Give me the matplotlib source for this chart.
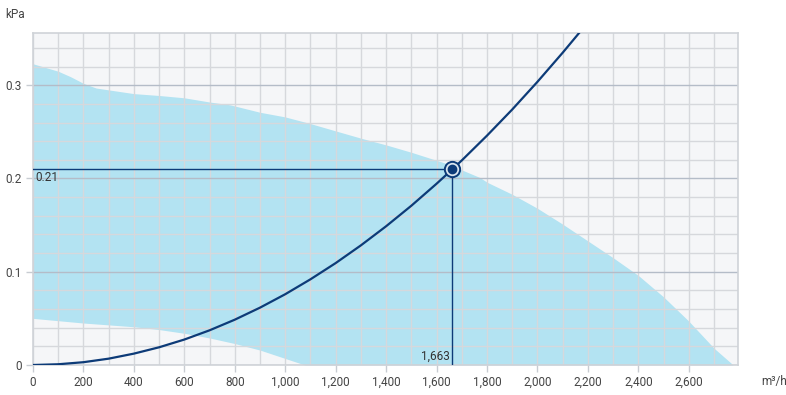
import numpy as np
import matplotlib.pyplot as plt
from matplotlib.ticker import MultipleLocator, FuncFormatter

plt.rcParams['font.family'] = ['Roboto', 'DejaVu Sans']

# fan operating field (upper and lower edge)
upper_q = [0, 100, 150, 200, 250, 300, 400, 500, 600, 700, 781, 900, 1000, 1098, 1200, 1303,
           1400, 1501, 1640, 1772, 1800, 1900, 2000, 2100, 2200, 2300, 2400, 2500, 2600, 2700, 2776]
upper_p = [0.323, 0.315, 0.309, 0.302, 0.297, 0.295, 0.291, 0.289, 0.2865, 0.282, 0.279, 0.271, 0.266, 0.259, 0.251, 0.243,
           0.236, 0.228, 0.216, 0.201, 0.196, 0.183, 0.168, 0.151, 0.133, 0.115, 0.096, 0.073, 0.047, 0.018, 0.0]
lower_q = [0, 200, 400, 500, 600, 700, 800, 900, 1000, 1078]
lower_p = [0.050, 0.045, 0.041, 0.038, 0.034, 0.029, 0.023, 0.016, 0.007, 0.0]

# system curve
sys_q = [0, 100, 200, 300, 400, 500, 600, 700, 800, 900, 1000, 1100, 1200, 1300, 1400, 1500,
         1600, 1663, 1700, 1800, 1900, 2000, 2100, 2165]
sys_p = [0.0, 0.0008, 0.0030, 0.0068, 0.0122, 0.0190, 0.0273, 0.0372, 0.0486, 0.0615, 0.0759, 0.0919,
         0.1093, 0.1283, 0.1488, 0.1708, 0.1944, 0.2100, 0.2194, 0.2460, 0.2740, 0.3037, 0.3349, 0.3560]

op_q, op_p = 1663, 0.21

navy = '#0d3b78'
fill_col = '#b3e3f2'

fig = plt.figure(figsize=(7.86, 3.95), dpi=100)
ax = fig.add_axes([33/786, 1-365/395, (738-33)/786, (365-33)/395])
ax.set_facecolor('#f5f6f8')
ax.set_xlim(0, 2795)
ax.set_ylim(0, 0.356)

# fill between upper and lower edge
q_all = np.linspace(0, 2776, 600)
up = np.interp(q_all, upper_q, upper_p)
lo = np.interp(q_all, lower_q, lower_p)
ax.fill_between(q_all, lo, up, color=fill_col, lw=0, zorder=1)

ax.xaxis.set_major_locator(MultipleLocator(200))
ax.xaxis.set_minor_locator(MultipleLocator(100))
ax.yaxis.set_major_locator(MultipleLocator(0.1))
ax.yaxis.set_minor_locator(MultipleLocator(0.02))
ax.grid(which='minor', color='#d6d8dc', lw=1, zorder=2)
ax.grid(which='major', axis='x', color='#d6d8dc', lw=1, zorder=2)
ax.grid(which='major', axis='y', color='#b4bcc8', lw=1, zorder=2)
ax.set_axisbelow(False)
for ln in ax.get_xgridlines() + ax.get_ygridlines():
    ln.set_zorder(2)

ax.xaxis.set_major_formatter(FuncFormatter(lambda v, p: f'{int(v):,}'))
ax.yaxis.set_major_formatter(FuncFormatter(lambda v, p: '0' if v == 0 else f'{v:g}'))
ax.tick_params(which='major', length=5, width=1, color='#c8ccd2', labelsize=8.5, labelcolor='#444444', pad=3)
ax.tick_params(which='minor', length=0)
for s in ax.spines.values():
    s.set_color('#cfd3d8')
    s.set_linewidth(1.2)
    s.set_zorder(3)

# system curve
ax.plot(sys_q, sys_p, color=navy, lw=1.6, zorder=4, clip_on=True)

# operating point guides
ax.plot([0, op_q], [op_p, op_p], color=navy, lw=1, zorder=4)
ax.plot([op_q, op_q], [0, op_p], color=navy, lw=1, zorder=4)
ax.plot(op_q, op_p, 'o', ms=11, mfc='#dbe6ef', mec=navy, mew=1.4, zorder=5)
ax.plot(op_q, op_p, 'o', ms=6, color=navy, zorder=6)

ax.text(8, op_p - 0.002, '0.21', ha='left', va='top', fontsize=8.5, color='#333333', zorder=6)
ax.text(op_q - 10, 0.002, '1,663', ha='right', va='bottom', fontsize=8.5, color='#333333', zorder=6)

fig.text(5/786, 1-15/395, 'kPa', ha='left', va='center', fontsize=8.5, color='#444444')
fig.text(761/786, 1-381/395, 'm³/h', ha='left', va='center', fontsize=8.5, color='#444444')

fig.savefig('out.png', dpi=100)
